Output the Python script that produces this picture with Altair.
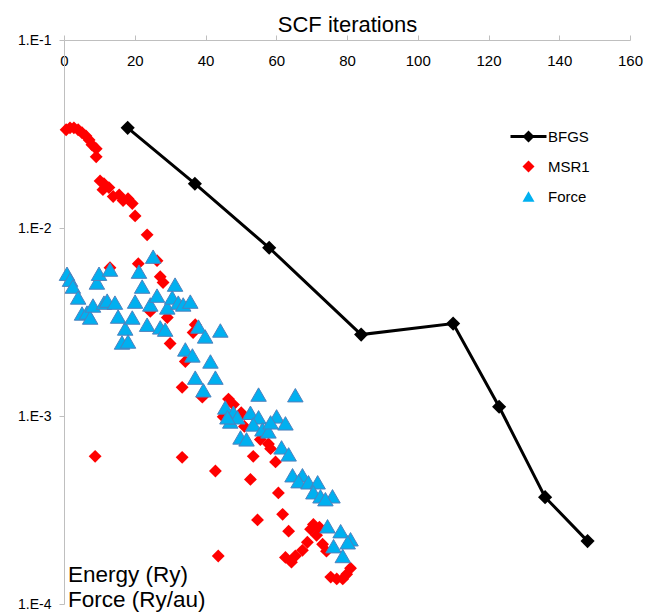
import altair as alt
import pandas as pd

# ---------------- data ----------------
bfgs_x = [18, 37, 58, 84, 110, 123, 136, 148]
bfgs_y = [0.0341, 0.0172, 0.00785, 0.00271, 0.0031, 0.00112, 0.00037, 0.000216]

msr1_x = [0.6, 1.7, 2.8, 4.0, 5.1, 6.2, 7.1, 7.9, 9.1, 9.1,
          10.2, 11.3, 11.0, 12.7, 13.9, 15.6, 16.7, 18.1, 19.3, 20.1,
          23.5, 13.0, 21.0, 26.3, 27.2, 28.0, 24.4, 29.2, 37.1, 36.5,
          30.0, 34.3, 33.4, 39.1, 46.5, 47.9, 45.0, 49.3, 50.1, 51.0,
          55.5, 57.8, 58.4, 53.5, 59.8, 42.8, 52.7, 60.6, 54.7, 61.8,
          63.5, 69.7, 71.4, 68.8, 67.4, 65.4, 62.6, 64.3, 73.1, 74.2,
          75.4, 77.1, 78.8, 79.9, 81.0, 43.6, 8.8, 70.5, 72.2, 33.4]
msr1_y = [0.0333, 0.0341, 0.0341, 0.0333, 0.0321, 0.0309, 0.0294, 0.0277, 0.0264, 0.0239,
          0.0178, 0.0172, 0.0160, 0.0164, 0.0147, 0.0150, 0.0140, 0.0143, 0.0135, 0.0116,
          0.0092, 0.00615, 0.00646, 0.0067, 0.00551, 0.00513, 0.0036, 0.00334, 0.00306, 0.00278,
          0.00243, 0.00195, 0.00142, 0.00126, 0.00123, 0.00115, 0.00099, 0.00098, 0.00104, 0.00088,
          0.00075, 0.00071, 0.00067, 0.00061, 0.00057, 0.00051, 0.00046, 0.00039, 0.00028, 0.00030,
          0.000244, 0.00025, 0.000232, 0.000213, 0.000193, 0.00018, 0.000177, 0.000167, 0.000208, 0.000191,
          0.000139, 0.000136, 0.000136, 0.000144, 0.000155, 0.00018, 0.00061, 0.000265, 0.000256, 0.000603]

force_x = [0.85, 1.7, 2.5, 4.0, 5.1, 6.5, 7.4, 8.2, 9.3, 9.9,
           11.3, 12.2, 13.0, 14.4, 15.3, 17.3, 16.4, 18.1, 19.3, 20.1,
           21.2, 22.1, 23.5, 24.4, 25.2, 26.3, 27.2, 28.6, 29.2, 30.6,
           31.4, 32.3, 33.7, 35.7, 38.0, 39.9, 44.2, 34.3, 36.3, 41.4,
           37.1, 42.8, 39.4, 45.6, 47.9, 47.0, 49.0, 52.7, 55.0, 65.4,
           55.0, 53.5, 56.1, 57.8, 60.1, 62.6, 49.9, 51.6, 61.5, 63.5,
           64.6, 67.4, 66.3, 69.1, 71.7, 70.5, 72.5, 75.9, 73.9, 74.5,
           78.2, 81.0, 80.2, 76.2, 78.8, 58.4, 46.2]
force_y = [0.00571, 0.00531, 0.00488, 0.00427, 0.00351, 0.00355, 0.00334, 0.00387, 0.00513, 0.00571,
           0.00401, 0.00411, 0.00601, 0.00401, 0.00338, 0.00292, 0.00246, 0.00249, 0.00334, 0.00406,
           0.00586, 0.00488, 0.00306, 0.00392, 0.00704, 0.00437, 0.00296, 0.00288, 0.00378, 0.00427,
           0.00500, 0.00401, 0.00392, 0.00406, 0.00299, 0.00265, 0.00285, 0.00226, 0.00210, 0.00195,
           0.00160, 0.00160, 0.00137, 0.00111, 0.00104, 0.000935, 0.000984, 0.00104, 0.00130, 0.00129,
           0.000984, 0.000902, 0.000849, 0.000828, 0.000995, 0.000914, 0.000769, 0.000751, 0.000681, 0.000625,
           0.000484, 0.000484, 0.000450, 0.000444, 0.000444, 0.000393, 0.000374, 0.000374, 0.000361, 0.000259,
           0.000244, 0.000221, 0.000213, 0.000203, 0.000180, 0.000925, 0.000984]

series_names = ["BFGS", "MSR1", "Force"]
series_colors = ["#000000", "#FF0000", "#00B0F0"]
x_ticks = [0, 20, 40, 60, 80, 100, 120, 140, 160]
y_ticks = [1e-4, 1e-3, 1e-2, 1e-1]
x_title = "SCF iterations"
y_title_lines = ["Energy (Ry)", "Force (Ry/au)"]

FONT = "Liberation Sans"
GREY = "#BFBFBF"

bfgs_df = pd.DataFrame({"x": bfgs_x, "y": bfgs_y, "series": "BFGS"})
msr1_df = pd.DataFrame({"x": msr1_x, "y": msr1_y, "series": "MSR1"})
force_df = pd.DataFrame({"x": force_x, "y": force_y, "series": "Force"})

x_enc = alt.X("x:Q", scale=alt.Scale(domain=[0, 160], nice=False),
              axis=alt.Axis(orient="top", values=x_ticks, title=x_title,
                            titleFontSize=22, titleFontWeight="normal", titleFont=FONT,
                            titleColor="black", titleY=-9, titleBaseline="alphabetic",
                            labelPadding=-25, tickSize=5, labelBaseline="middle",
                            labelFontSize=15, labelFont=FONT, labelColor="black",
                            grid=False, domainColor=GREY, tickColor=GREY,
                            labelFlush=False, labelOverlap=False))
y_enc = alt.Y("y:Q", scale=alt.Scale(type="log", domain=[1e-4, 1e-1], nice=False),
              axis=alt.Axis(values=y_ticks,
                            labelExpr="'1.E' + round(log(datum.value)/LN10)",
                            title=None, grid=False, tickSize=5, labelPadding=8,
                            domainColor=GREY, tickColor=GREY, labelFontSize=14,
                            labelFont=FONT, labelColor="black"))

bfgs_path = "M-3,-0.25H3V0.25H-3Z M0,-1L1,0L0,1L-1,0Z"
legend = alt.Legend(orient="none", legendX=457, legendY=89, title=None,
                    labelFontSize=15, labelFont=FONT, labelColor="black",
                    symbolSize=144, rowPadding=14, labelOffset=12, padding=0,
                    symbolStrokeWidth=0, symbolOpacity=1)
color_enc = alt.Color("series:N", scale=alt.Scale(domain=series_names, range=series_colors),
                      legend=legend)
shape_enc = alt.Shape("series:N",
                      scale=alt.Scale(domain=series_names,
                                      range=[bfgs_path, "diamond", "triangle-up"]),
                      legend=legend)

line = alt.Chart(bfgs_df).mark_line(color="black", strokeWidth=3).encode(x=x_enc, y=y_enc)
bpts = alt.Chart(bfgs_df).mark_point(shape="diamond", filled=True, color="black",
                                     size=200, opacity=1).encode(x=x_enc, y=y_enc)
mpts = alt.Chart(msr1_df).mark_point(filled=True, size=165, opacity=1, strokeWidth=0).encode(
    x=x_enc, y=y_enc, color=color_enc, shape=shape_enc)
fpts = alt.Chart(force_df).mark_point(filled=True, size=240, opacity=1,
                                      stroke="#4F81BD", strokeWidth=1).encode(
    x=x_enc, y=y_enc, color=color_enc, shape=shape_enc)

t1 = alt.Chart(pd.DataFrame({"t": [y_title_lines[0]]})).mark_text(
    align="left", baseline="alphabetic", fontSize=22.5, font=FONT, color="black").encode(
    text="t:N", x=alt.value(4), y=alt.value(542))
t2 = alt.Chart(pd.DataFrame({"t": [y_title_lines[1]]})).mark_text(
    align="left", baseline="alphabetic", fontSize=22.5, font=FONT, color="black").encode(
    text="t:N", x=alt.value(4), y=alt.value(567))

chart = alt.layer(line, bpts, mpts, fpts, t1, t2).properties(
    width=566, height=564,
    padding={"left": 64, "top": 40, "right": 21, "bottom": 8},
    autosize=alt.AutoSizeParams(type="none"),
).configure_view(stroke=None)

chart.save("out.html", embed_options={"renderer": "svg", "actions": False})
